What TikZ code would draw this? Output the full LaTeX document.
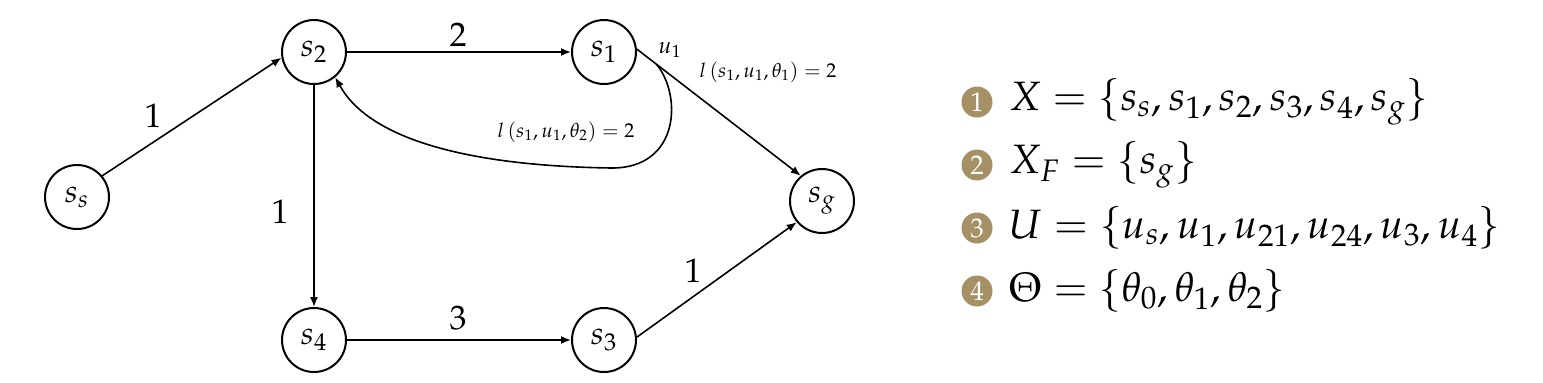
\documentclass[tikz,border=0pt]{standalone}
\usepackage{mathpazo}
\usetikzlibrary{arrows.meta}
\definecolor{bulletgold}{RGB}{166,145,103}
\tikzset{
 state/.style={draw,circle,line width=1pt,minimum size=32pt,inner sep=0pt,font=\fontsize{16}{18}\selectfont},
 edge/.style={line width=0.8pt,-{Latex[length=5pt,width=4pt]}},
 wt/.style={font=\fontsize{17}{20}\selectfont},
 cost/.style={font=\fontsize{10}{12}\selectfont},
 num/.style={circle,fill=bulletgold,text=white,minimum size=15.5pt,inner sep=0pt,font=\fontsize{13.5}{14}\selectfont},
 setdef/.style={anchor=west,font=\fontsize{20.5}{24}\selectfont}
}
\begin{document}
\begin{tikzpicture}[x=0.5pt,y=-0.5pt]
\useasboundingbox (0,0) rectangle (1543,382);
% states
\node[state] (ss) at (77,197) {$s_s$};
\node[state] (s2) at (314,52) {$s_2$};
\node[state] (s1) at (604,52) {$s_1$};
\node[state] (sg) at (822,201) {$s_g$};
\node[state] (s4) at (314,340) {$s_4$};
\node[state] (s3) at (604,340) {$s_3$};
% transitions
\draw[edge] (ss.40) -- (s2.190);
\draw[edge] (s2) -- (s1);
\draw[edge] (s2) -- (s4);
\draw[edge] (s4) -- (s3);
\draw[edge] (s3.5) -- (sg.220);
\draw[edge] (s1.5) -- coordinate[pos=0.12] (br) (sg.130);
\draw[edge] (br) .. controls (682,95) and (680,168) .. (612,168) coordinate (lo)
 .. controls (470,166) and (370,140) .. (s2.-50);
\node[wt] (w1) at (153,116) {$1$};
\node[wt] (w2) at (458,35) {$2$};
\node[wt] (w3) at (280,212) {$1$};
\node[wt] (w4) at (458,318) {$3$};
\node[wt] (w5) at (693,271) {$1$};
\node[cost,font=\fontsize{11.5}{12}\selectfont] (u1) at (670,50) {$u_1$};
\node[cost] (c1) at (768,72) {$l\left(s_1,u_1,\theta_1\right)=2$};
\node[cost] (c2) at (566,132) {$l\left(s_1,u_1,\theta_2\right)=2$};
% sets
\foreach \i/\y/\txt in {1/102/{X=\{s_s,s_1,s_2,s_3,s_4,s_g\}},2/165/{X_F=\{s_g\}},3/228/{U=\{u_s,u_1,u_{21},u_{24},u_3,u_4\}},4/291/{\Theta=\{\theta_0,\theta_1,\theta_2\}}}{
 \node[num] (b\i) at (977,\y) {$\i$};
 \node[setdef] (d\i) at (1002,\y) {$\txt$};
}
\end{tikzpicture}
\end{document}
